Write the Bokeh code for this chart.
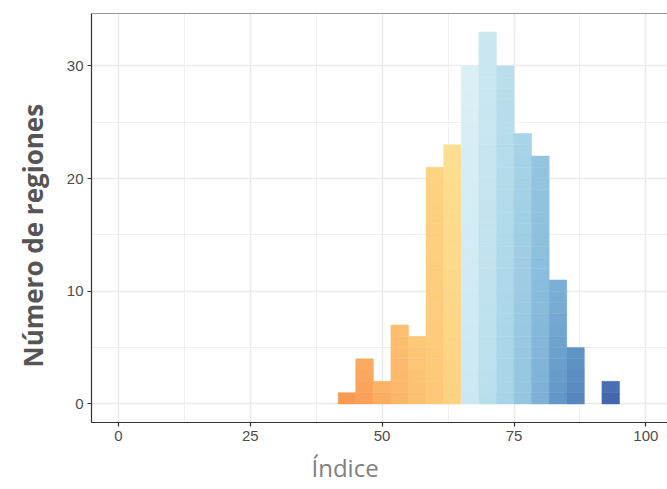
from bokeh.plotting import figure
from bokeh.models import Range1d, FixedTicker, Span, ColumnDataSource, Title
from bokeh.embed import file_html
from bokeh.resources import INLINE

# ---- data ----
bin_lefts = [41.667, 45.0, 48.333, 51.667, 55.0, 58.333, 61.667, 65.0,
             68.333, 71.667, 75.0, 78.333, 81.667, 85.0, 91.667]
bin_width = 3.333
counts = [1, 4, 2, 7, 6, 21, 23, 30, 33, 30, 24, 22, 11, 5, 2]
x_ticks = [0, 25, 50, 75, 100]
y_ticks = [0, 10, 20, 30]
x_title = "Índice"
y_title = "Número de regiones"

# ---- palette anchors (style) ----
midpoint = 65.0
orange_anchors = [(41.667, "#f8944f"), (48.0, "#fbaa60"), (55.0, "#fdbf71"),
                  (61.0, "#fdd07f"), (65.0, "#fdde90")]
blue_anchors = [(65.0, "#dbeff6"), (70.0, "#c3e4ef"), (75.0, "#a7d4e7"),
                (80.0, "#8bbedc"), (85.0, "#6196c7"), (95.0, "#4062ab")]


def hex2rgb(h):
    return tuple(int(h[i:i + 2], 16) for i in (1, 3, 5))


def interp(v, anchors):
    if v <= anchors[0][0]:
        return anchors[0][1]
    for (a, ca), (b, cb) in zip(anchors[:-1], anchors[1:]):
        if a <= v <= b:
            t = (v - a) / (b - a)
            ra, rb = hex2rgb(ca), hex2rgb(cb)
            return "#%02x%02x%02x" % tuple(round(x + (y - x) * t) for x, y in zip(ra, rb))
    return anchors[-1][1]


lefts, rights, bottoms, tops, colors = [], [], [], [], []
for lo, c in zip(bin_lefts, counts):
    hi = lo + bin_width
    for k in range(c):
        t = (k + 0.5) / c
        if lo < midpoint:
            v = lo + t * bin_width
            col = interp(v, orange_anchors)
        else:
            v = hi - t * bin_width
            col = interp(v, blue_anchors)
        lefts.append(lo)
        rights.append(hi)
        bottoms.append(k)
        tops.append(k + 1)
        colors.append(col)

src = ColumnDataSource(dict(left=lefts, right=rights, bottom=bottoms, top=tops, color=colors))

p = figure(width=667, height=489, output_backend="svg", toolbar_location=None,
           x_range=Range1d(-5.1, 104.1), y_range=Range1d(-1.65, 34.65),
           min_border_left=90, min_border_right=0, min_border_top=13, min_border_bottom=67)
p.background_fill_color = "white"
p.border_fill_color = "white"
p.outline_line_color = None

p.quad(left="left", right="right", bottom="bottom", top="top", fill_color="color",
       line_color="color", line_width=0.5, source=src)

# grid
p.xgrid.ticker = FixedTicker(ticks=x_ticks, minor_ticks=[12.5, 37.5, 62.5, 87.5])
p.ygrid.ticker = FixedTicker(ticks=y_ticks, minor_ticks=[5, 15, 25])
for g in (p.xgrid, p.ygrid):
    g.grid_line_color = "#ebebeb"
    g.grid_line_width = 1.5
    g.minor_grid_line_color = "#f0f0f0"
    g.minor_grid_line_width = 1.0

# axes
for ax in (p.xaxis, p.yaxis):
    ax.axis_line_color = "#333333"
    ax.axis_line_width = 1.2
    ax.major_tick_line_color = "#333333"
    ax.major_tick_line_width = 1.2
    ax.major_tick_in = 0
    ax.major_tick_out = 4
    ax.minor_tick_line_color = None
    ax.major_label_text_font = "Liberation Sans"
    ax.major_label_text_font_size = "15px"
    ax.major_label_text_color = "#4d4d4d"
    ax.major_label_standoff = 4
p.xaxis.ticker = FixedTicker(ticks=x_ticks)
p.yaxis.ticker = FixedTicker(ticks=y_ticks)

p.add_layout(Span(location=34.65, dimension="width", line_color="#333333", line_width=1.2))

p.add_layout(Title(text=x_title, text_font="Open Sans", text_font_size="24px",
                   text_font_style="normal", text_color="#808080", align="left",
                   offset=220, standoff=10), "below")
p.add_layout(Title(text=y_title, text_font="Open Sans", text_font_size="26px",
                   text_font_style="bold", text_color="#555555", align="left",
                   offset=55, standoff=25), "left")

open("out.html", "w").write(file_html(p, INLINE))
